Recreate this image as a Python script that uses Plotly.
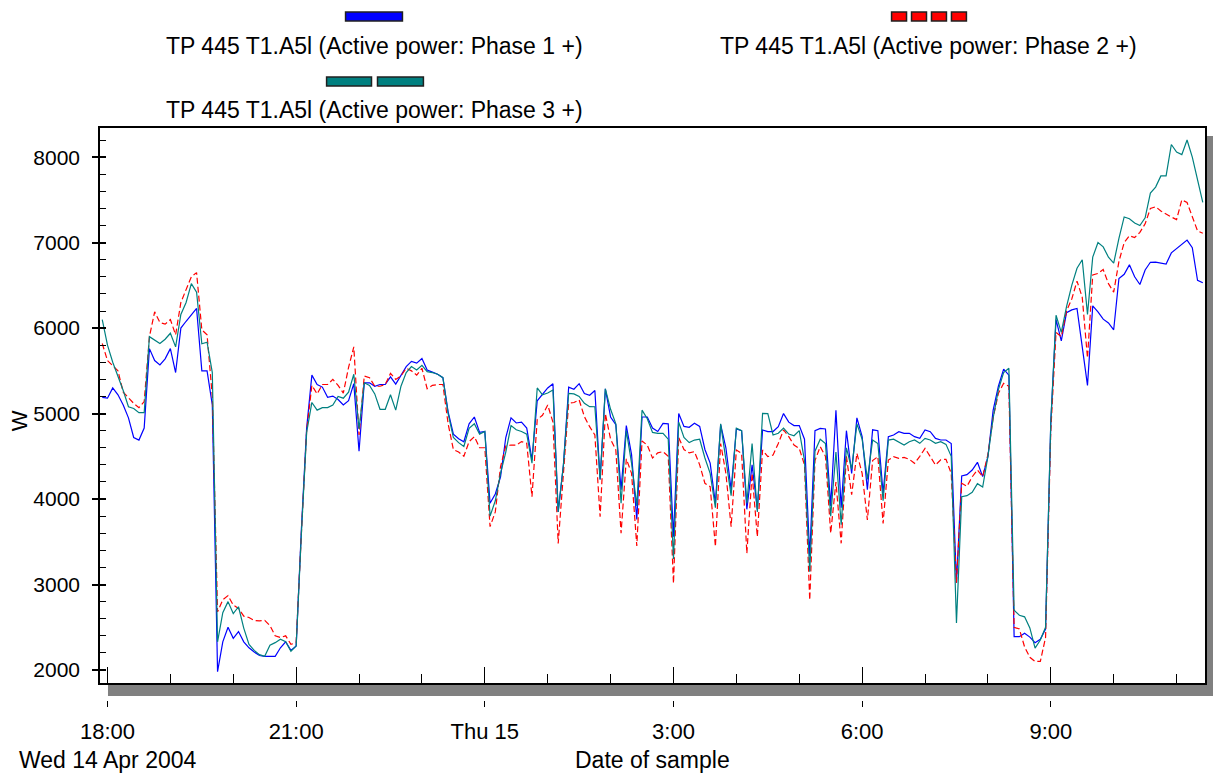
import pandas as pd
import plotly.graph_objects as go

# ---------------- data ----------------
times = pd.date_range("2004-04-14 17:55", periods=211, freq="5min")

phase1 = [5190, 5180, 5300, 5220, 5100, 4950, 4720, 4690, 4830, 5760,
          5620, 5570, 5640, 5760, 5480, 6000, 6080, 6160, 6230, 5500,
          5500, 5100, 1980, 2330, 2500, 2370, 2450, 2330, 2260, 2210,
          2170, 2160, 2160, 2160, 2260, 2330, 2230, 2280, 3650, 4830,
          5450, 5340, 5310, 5190, 5205, 5165, 5100, 5150, 5350, 4560,
          5360, 5360, 5320, 5340, 5340, 5430, 5345, 5440, 5550, 5610,
          5590, 5645, 5510, 5485, 5460, 5420, 5020, 4760, 4705, 4670,
          4880, 4960, 4780, 4790, 3950, 4060, 4260, 4720, 4950, 4890,
          4900, 4830, 4460, 5150, 5230, 5300, 5350, 3850, 4400, 5310,
          5285, 5350, 5235, 5215, 5270, 4230, 5290, 4960, 4870, 4110,
          4860, 4520, 3760, 4960, 4960, 4830, 4790, 4886, 4880, 3560,
          5000, 4850, 4840, 4886, 4850, 4580, 4420, 3950, 4870, 4600,
          4110, 4820, 4800, 3880, 4400, 3880, 4808, 4790, 4790, 4847,
          5000, 4900, 4860, 4860, 4700, 3330, 4800, 4827, 4820, 3920,
          5040, 3900, 4800, 4300, 4950, 4730, 4110, 4810, 4800, 4070,
          4730, 4750, 4788, 4769, 4769, 4730, 4710, 4808, 4788, 4710,
          4691, 4691, 4650, 3020, 4270, 4285, 4340, 4430, 4262, 4496,
          5040, 5320, 5520, 5450, 2390, 2390, 2430, 2385, 2320, 2360,
          2480, 4900, 6100, 5850, 6180, 6213, 6230, 5780, 5330, 6260,
          6190, 6105, 6060, 5980, 6580, 6630, 6740, 6600, 6510, 6680,
          6770, 6771, 6760, 6750, 6880, 6930, 6990, 7030, 6940, 6560,
          6530]

phase2 = [5820, 5620, 5560, 5500, 5250, 5180, 5120, 5069, 5140, 5900,
          6190, 6066, 6046, 6100, 5921, 6300, 6450, 6600, 6649, 5980,
          5921, 5200, 2680, 2823, 2870, 2760, 2720, 2630, 2615, 2580,
          2575, 2580, 2520, 2400, 2380, 2400, 2300, 2320, 3600, 4800,
          5330, 5230, 5340, 5340, 5400, 5330, 5240, 5540, 5780, 4750,
          5440, 5420, 5320, 5320, 5340, 5470, 5400, 5440, 5530, 5500,
          5450, 5530, 5290, 5330, 5340, 5340, 4880, 4580, 4550, 4500,
          4672, 4730, 4600, 4600, 3677, 3850, 4380, 4620, 4632, 4632,
          4672, 4652, 4028, 4930, 4980, 5100, 4900, 3480, 4300, 5120,
          5130, 5160, 4964, 4847, 4750, 3794, 5000, 4700, 4574, 3600,
          4470, 4300, 3450, 4680, 4630, 4480, 4540, 4555, 4500, 3014,
          4720, 4580, 4540, 4555, 4400, 4184, 4145, 3443, 4650, 4300,
          3677, 4574, 4535, 3365, 4300, 3560, 4574, 4496, 4516, 4650,
          4808, 4730, 4632, 4593, 4400, 2819, 4450, 4613, 4500, 3600,
          4200, 3482, 4500, 4050, 4535, 4300, 3755, 4450, 4496, 3716,
          4457, 4496, 4476, 4488, 4465, 4418, 4500, 4593, 4496, 4398,
          4460, 4465, 4300, 3020, 4184, 4150, 4260, 4340, 4262, 4520,
          4950, 5237, 5354, 5320, 2500, 2480, 2270, 2149, 2100, 2100,
          2380, 4800, 5950, 5900, 6200, 6340, 6550, 6360, 5650, 6621,
          6640, 6685, 6520, 6420, 6780, 7000, 7080, 7060, 7120, 7220,
          7400, 7420, 7370, 7330, 7300, 7270, 7500, 7470, 7300, 7137,
          7110]

phase3 = [6100, 5800, 5600, 5440, 5270, 5080, 5060, 5010, 5010, 5900,
          5860, 5820, 5870, 5940, 5780, 6160, 6300, 6520, 6420, 5817,
          5835, 5480, 2330, 2670, 2800, 2660, 2740, 2490, 2300, 2230,
          2180, 2160, 2290, 2320, 2360, 2330, 2220, 2280, 3600, 4780,
          5130, 5040, 5070, 5070, 5100, 5200, 5180, 5250, 5460, 4820,
          5360, 5330, 5230, 5050, 5050, 5220, 5040, 5320, 5480, 5550,
          5510, 5565, 5490, 5480, 5460, 5420, 5000, 4720, 4660, 4615,
          4827, 4880, 4760, 4790, 3800, 3980, 4300, 4550, 4860, 4810,
          4790, 4760, 4420, 5300, 5220, 5240, 5276, 3850, 4400, 5237,
          5230, 5200, 5120, 5081, 5080, 4230, 5290, 5050, 4880, 3950,
          4800, 4420, 3920, 5040, 4940, 4780, 4769, 4769, 4700, 3300,
          4900, 4720, 4660, 4690, 4700, 4480, 4300, 3900, 4880, 4450,
          4040, 4830, 4800, 3950, 4650, 3850, 5003, 5000, 4750, 4770,
          4830, 4760, 4740, 4800, 4450, 3150, 4560, 4700, 4650, 3800,
          4550, 3700, 4600, 4350, 4880, 4700, 4230, 4690, 4650, 3980,
          4690, 4700, 4670, 4632, 4670, 4691, 4652, 4710, 4691, 4652,
          4672, 4640, 4500, 2550, 4028, 4040, 4080, 4180, 4140, 4500,
          4950, 5280, 5480, 5530, 2700, 2640, 2622, 2493, 2256, 2350,
          2500, 4900, 6150, 5950, 6250, 6500, 6700, 6800, 6160, 6830,
          7000, 6950, 6830, 6760, 7050, 7300, 7280, 7230, 7200, 7290,
          7580, 7650, 7780, 7780, 8148, 8060, 8030, 8200, 8000, 7720,
          7470]

series_names = ["TP 445 T1.A5l (Active power: Phase 1 +)",
                "TP 445 T1.A5l (Active power: Phase 2 +)",
                "TP 445 T1.A5l (Active power: Phase 3 +)"]
x_tick_vals = ["2004-04-14 18:00", "2004-04-14 21:00", "2004-04-15 00:00",
               "2004-04-15 03:00", "2004-04-15 06:00", "2004-04-15 09:00"]
x_tick_text = ["18:00", "21:00", "Thu 15", "3:00", "6:00", "9:00"]
y_tick_vals = [2000, 3000, 4000, 5000, 6000, 7000, 8000]
x_range = ["2004-04-14 17:52:51", "2004-04-15 11:27:07"]
y_range = [1848, 8341]

# ---------------- layout helpers ----------------
W, H = 1213, 774
ML, MR, MT, MB = 100, 6, 128, 74
PW, PH = W - ML - MR, H - MT - MB
FONT = "Liberation Sans, Arial, sans-serif"
BLUE, RED, TEAL = "#0000FF", "#FF0000", "#008080"
TXT = 23


def px(x):
    return (x - ML) / PW


def py(y):
    return (H - MB - y) / PH


fig = go.Figure()
fig.add_trace(go.Scatter(x=times, y=phase1, mode="lines", name=series_names[0],
                         line=dict(color=BLUE, width=1.2), showlegend=False))
fig.add_trace(go.Scatter(x=times, y=phase2, mode="lines", name=series_names[1],
                         line=dict(color=RED, width=1.2, dash="6px,3px"), showlegend=False))
fig.add_trace(go.Scatter(x=times, y=phase3, mode="lines", name=series_names[2],
                         line=dict(color=TEAL, width=1.2), showlegend=False))
# helper traces so the overlay axes get drawn
fig.add_trace(go.Scatter(x=[times[0]], y=[phase1[0]], xaxis="x2", yaxis="y", mode="markers",
                         marker=dict(opacity=0), showlegend=False, hoverinfo="skip"))
fig.add_trace(go.Scatter(x=[times[0]], y=[phase1[0]], xaxis="x", yaxis="y2", mode="markers",
                         marker=dict(opacity=0), showlegend=False, hoverinfo="skip"))

ydom0 = py(683)

fig.update_layout(
    width=W, height=H,
    margin=dict(l=ML, r=MR, t=MT, b=MB, pad=0),
    paper_bgcolor="white", plot_bgcolor="white",
    font=dict(family=FONT, size=21, color="black"),
    xaxis=dict(type="date", range=x_range, anchor="y",
               showline=True, mirror=True, linecolor="black", linewidth=1.5,
               showgrid=False, zeroline=False, showticklabels=False,
               tick0="2004-04-14 18:00", dtick=3 * 3600000,
               ticks="inside", ticklen=16, tickcolor="black", tickwidth=1,
               minor=dict(tick0="2004-04-14 18:00", dtick=3600000, ticks="inside",
                          ticklen=9, tickcolor="black", tickwidth=1)),
    xaxis2=dict(type="date", range=x_range, overlaying="x", anchor="free", position=0,
                side="bottom", showline=False, showgrid=False, zeroline=False,
                tickvals=x_tick_vals, ticktext=x_tick_text,
                ticks="outside", ticklen=6, tickcolor="black", tickwidth=1,
                tickfont=dict(family=FONT, size=22, color="black"),
                ticklabelstandoff=6),
    yaxis=dict(range=y_range, domain=[ydom0, 1], anchor="x",
               showline=True, mirror=True, linecolor="black", linewidth=1.5,
               showgrid=False, zeroline=False,
               tickvals=y_tick_vals, ticks="outside", ticklen=6, tickcolor="black",
               tickwidth=1.5,
               tickfont=dict(family=FONT, size=21, color="black"),
               ticklabelstandoff=8,
               minor=dict(dtick=200, tick0=0, ticks="inside", ticklen=6,
                          tickcolor="black", tickwidth=1)),
    yaxis2=dict(range=y_range, domain=[ydom0, 1], overlaying="y", anchor="x", side="left",
                showline=False, showgrid=False, zeroline=False, showticklabels=False,
                tickvals=y_tick_vals, ticks="inside", ticklen=6, tickcolor="black",
                tickwidth=1.5),
)

shapes = []
# drop shadow of the plot frame
shapes.append(dict(type="rect", xref="paper", yref="paper", layer="below",
                   x0=px(108), x1=px(1216), y0=py(696), y1=py(684),
                   fillcolor="#808080", line=dict(width=0)))
shapes.append(dict(type="rect", xref="paper", yref="paper", layer="below",
                   x0=px(1208), x1=px(1216), y0=py(696), y1=py(136),
                   fillcolor="#808080", line=dict(width=0)))


def legend_box(x0, x1, y0, y1, color):
    return dict(type="rect", xref="paper", yref="paper",
                x0=px(x0), x1=px(x1), y0=py(y1), y1=py(y0),
                fillcolor=color, line=dict(color="#202020", width=1.5))


# legend symbols
shapes.append(legend_box(346, 403, 12, 21, BLUE))
for a in (893, 913, 933, 953):
    shapes.append(legend_box(a, a + 15, 12, 21, RED))
shapes.append(legend_box(327, 372, 77, 86, TEAL))
shapes.append(legend_box(378, 424, 77, 86, TEAL))

annotations = [
    dict(text=series_names[0], x=px(375), y=py(46), xref="paper", yref="paper",
         showarrow=False, xanchor="center", yanchor="middle", font=dict(size=TXT)),
    dict(text=series_names[1], x=px(930), y=py(46), xref="paper", yref="paper",
         showarrow=False, xanchor="center", yanchor="middle", font=dict(size=TXT)),
    dict(text=series_names[2], x=px(375), y=py(110), xref="paper", yref="paper",
         showarrow=False, xanchor="center", yanchor="middle", font=dict(size=TXT)),
    dict(text="W", x=px(19), y=py(421), xref="paper", yref="paper", textangle=-90,
         showarrow=False, xanchor="center", yanchor="middle", font=dict(size=22)),
    dict(text="Wed 14 Apr 2004", x=px(17), y=py(760), xref="paper", yref="paper",
         showarrow=False, xanchor="left", yanchor="middle", font=dict(size=TXT)),
    dict(text="Date of sample", x=px(653), y=py(760), xref="paper", yref="paper",
         showarrow=False, xanchor="center", yanchor="middle", font=dict(size=TXT)),
]

fig.update_layout(shapes=shapes, annotations=annotations)
fig.write_html("out.html")
